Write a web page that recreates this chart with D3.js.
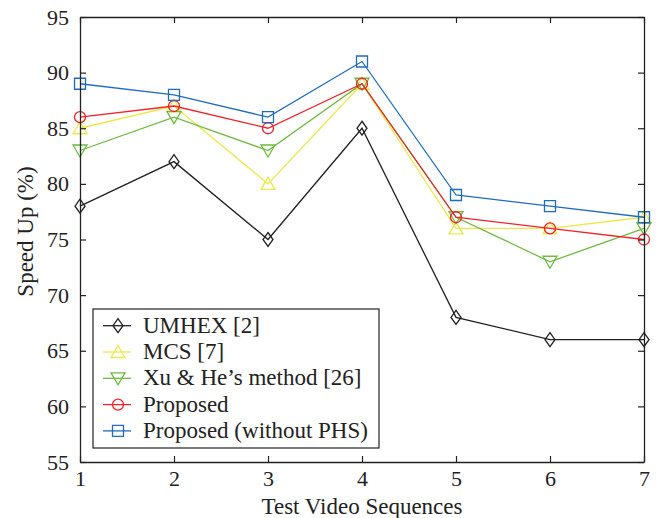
<!DOCTYPE html>
<html>
<head>
<meta charset="utf-8">
<script src="https://cdn.jsdelivr.net/npm/d3@7"></script>
<style>
  body { margin: 0; background: #fff; }
</style>
</head>
<body>
<script>
const sequences = [1, 2, 3, 4, 5, 6, 7];
const umhex = [78, 82, 75, 85, 68, 66, 66];
const mcs = [85, 87, 80, 89, 76, 76, 77];
const xuHe = [83, 86, 83, 89, 77, 73, 76];
const proposed = [86, 87, 85, 89, 77, 76, 75];
const proposedNoPHS = [89, 88, 86, 91, 79, 78, 77];
const yTicks = [55, 60, 65, 70, 75, 80, 85, 90, 95];

const series = [
  { name: "UMHEX [2]", values: umhex, color: "#222222", marker: "diamond" },
  { name: "MCS [7]", values: mcs, color: "#ebe84a", marker: "up" },
  { name: "Xu & He\u2019s method [26]", values: xuHe, color: "#6fbb3f", marker: "down" },
  { name: "Proposed", values: proposed, color: "#f0242a", marker: "circle" },
  { name: "Proposed (without PHS)", values: proposedNoPHS, color: "#1f6cbf", marker: "square" }
];

const serif = "'Liberation Serif', 'Times New Roman', Times, 'DejaVu Serif', serif";
const fontSize = "23px";

const margin = { top: 17, right: 15, bottom: 56, left: 80 };
const totalWidth = 659;
const totalHeight = 518;
const width = totalWidth - margin.left - margin.right;
const height = totalHeight - margin.top - margin.bottom;

const svg = d3.select("body")
  .append("svg")
  .attr("width", totalWidth)
  .attr("height", totalHeight)
  .style("font-family", serif)
  .append("g")
  .attr("transform", `translate(${margin.left}, ${margin.top})`);

const xScale = d3.scaleLinear().domain([1, 7]).range([0, width]);
const yScale = d3.scaleLinear().domain([55, 95]).range([height, 0]);

// markers drawn as paths centred at 0,0
function markerPath(type) {
  if (type === "diamond") return "M0,-7L5,0L0,7L-5,0Z";
  if (type === "up") return "M0,-6.5L7,5.5L-7,5.5Z";
  if (type === "down") return "M0,6.5L7,-5.5L-7,-5.5Z";
  return "M-5.5,-5.5H5.5V5.5H-5.5Z";
}

function drawMarker(g, type, color) {
  if (type === "circle") {
    g.append("circle").attr("r", 5.5)
      .attr("fill", "none").attr("stroke", color).attr("stroke-width", 1.3);
  } else {
    g.append("path").attr("d", markerPath(type))
      .attr("fill", "none").attr("stroke", color).attr("stroke-width", 1.3);
  }
}

const line = d3.line()
  .x((d, i) => xScale(sequences[i]))
  .y(d => yScale(d));

series.forEach(s => {
  svg.append("path")
    .attr("d", line(s.values))
    .attr("fill", "none")
    .attr("stroke", s.color)
    .attr("stroke-width", 1.3);
  s.values.forEach((v, i) => {
    const g = svg.append("g")
      .attr("transform", `translate(${xScale(sequences[i])}, ${yScale(v)})`);
    drawMarker(g, s.marker, s.color);
  });
});

// axes with inward ticks on all sides
const axisStyle = g => {
  g.attr("font-family", serif);
  g.select(".domain").attr("stroke", "#222").attr("stroke-width", 1.3);
  g.selectAll(".tick line").attr("stroke", "#222").attr("stroke-width", 1.2);
  g.selectAll(".tick text").style("font-size", "22px").style("font-family", serif).attr("fill", "#222");
};

svg.append("g")
  .attr("transform", `translate(0, ${height})`)
  .call(d3.axisBottom(xScale).tickValues(sequences).tickFormat(d3.format("d")).tickSizeInner(-6).tickSizeOuter(0).tickPadding(8))
  .call(axisStyle);

svg.append("g")
  .call(d3.axisLeft(yScale).tickValues(yTicks).tickSizeInner(-6).tickSizeOuter(0).tickPadding(11))
  .call(axisStyle);

svg.append("g")
  .call(d3.axisTop(xScale).tickValues(sequences).tickFormat("").tickSizeInner(-6).tickSizeOuter(0))
  .call(axisStyle);

svg.append("g")
  .attr("transform", `translate(${width}, 0)`)
  .call(d3.axisRight(yScale).tickValues(yTicks).tickFormat("").tickSizeInner(-6).tickSizeOuter(0))
  .call(axisStyle);

svg.append("text")
  .attr("x", width / 2)
  .attr("y", height + 52)
  .attr("text-anchor", "middle")
  .attr("fill", "#222")
  .style("font-family", serif)
  .style("font-size", fontSize)
  .text("Test Video Sequences");

svg.append("text")
  .attr("transform", "rotate(-90)")
  .attr("x", -height / 2 + 8)
  .attr("y", -47)
  .attr("text-anchor", "middle")
  .attr("fill", "#222")
  .style("font-family", serif)
  .style("font-size", fontSize)
  .text("Speed Up (%)");

// legend
const legend = svg.append("g").attr("transform", "translate(13, 292)");
legend.append("rect")
  .attr("width", 286)
  .attr("height", 139)
  .attr("fill", "#fff")
  .attr("stroke", "#222")
  .attr("stroke-width", 1.2);

series.forEach((s, i) => {
  const y = 16.7 + i * 26.3;
  const row = legend.append("g").attr("transform", `translate(0, ${y})`);
  row.append("line")
    .attr("x1", 10).attr("x2", 38)
    .attr("stroke", s.color).attr("stroke-width", 1.3);
  drawMarker(row.append("g").attr("transform", "translate(25, 0)"), s.marker, s.color);
  row.append("text")
    .attr("x", 50)
    .attr("y", 7)
    .attr("fill", "#222")
    .style("font-family", serif)
    .style("font-size", fontSize)
    .text(s.name);
});
</script>
</body>
</html>
